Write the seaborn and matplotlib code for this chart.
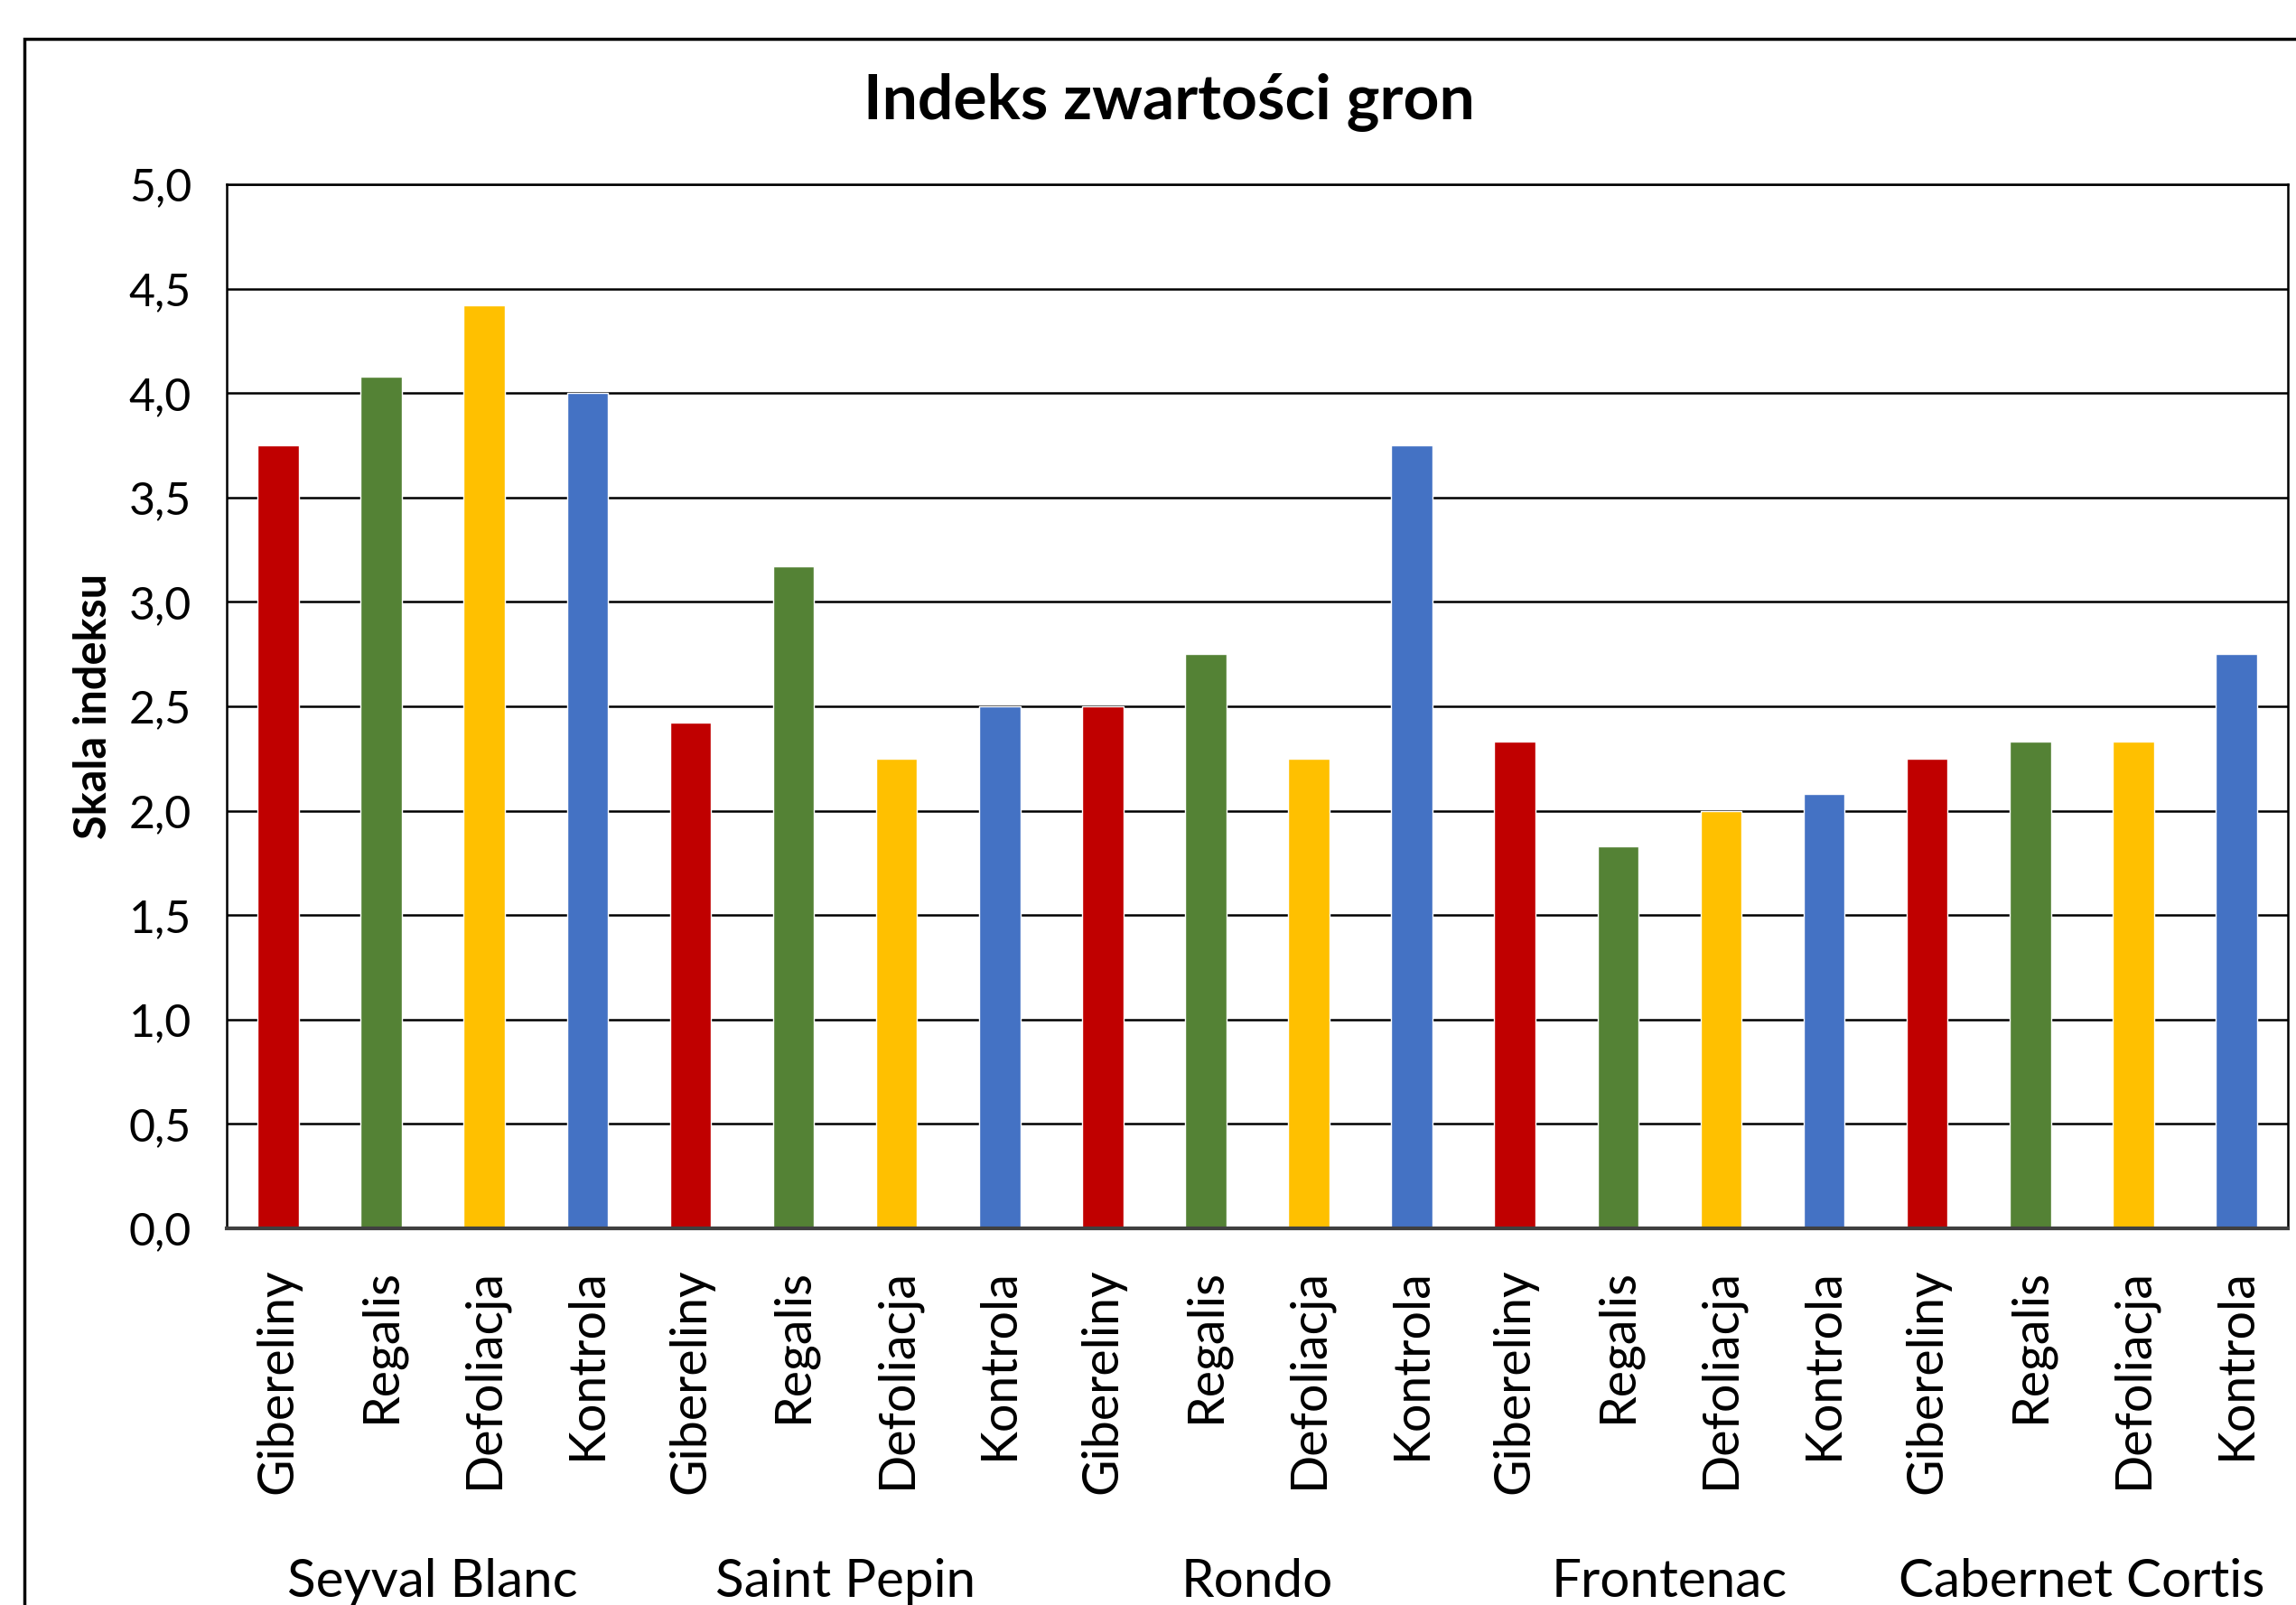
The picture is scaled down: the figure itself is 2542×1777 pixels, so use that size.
import numpy as np
import pandas as pd
import seaborn as sns
import matplotlib
matplotlib.use("Agg")
import matplotlib.pyplot as plt
from matplotlib.patches import Rectangle
from matplotlib.ticker import FuncFormatter
from matplotlib.transforms import blended_transform_factory

# data
varieties = ["Seyval Blanc", "Saint Pepin", "Rondo", "Frontenac", "Cabernet Cortis"]
treatments = ["Gibereliny", "Regalis", "Defoliacja", "Kontrola"]
seyval_blanc = [3.75, 4.08, 4.42, 4.00]
saint_pepin = [2.42, 3.17, 2.25, 2.50]
rondo = [2.50, 2.75, 2.25, 3.75]
frontenac = [2.33, 1.83, 2.00, 2.08]
cabernet_cortis = [2.25, 2.33, 2.33, 2.75]
colors = ["#C00000", "#548235", "#FFC000", "#4472C4"]

rows = []
for v, vals in zip(varieties, [seyval_blanc, saint_pepin, rondo, frontenac, cabernet_cortis]):
    for t, val in zip(treatments, vals):
        rows.append({"slot": v + " | " + t, "variety": v, "treatment": t, "value": val})
df = pd.DataFrame(rows)

sns.set_theme(style="white")
plt.rcParams['font.family'] = ['Lato', 'DejaVu Sans']
plt.rcParams.update({"text.color": "black", "axes.labelcolor": "black",
                     "xtick.color": "black", "ytick.color": "black"})

fig = plt.figure(figsize=(25.42, 17.77), dpi=100)
ax = fig.add_axes([251 / 2542, 1 - 1360 / 1777, (2533 - 251) / 2542, (1360 - 204) / 1777])

sns.barplot(data=df, x="slot", y="value", hue="treatment", hue_order=treatments,
            palette=colors, dodge=False, width=0.4, legend=False, ax=ax,
            saturation=1, errorbar=None)

ax.set_ylim(0, 5)
ax.set_xlim(-0.5, len(df) - 0.5)
ax.set_yticks(np.arange(0, 5.01, 0.5))
ax.yaxis.set_major_formatter(FuncFormatter(lambda v, p: f"{v:.1f}".replace(".", ",")))
ax.yaxis.grid(True, color="black", linewidth=1.8)
ax.set_axisbelow(True)
ax.tick_params(axis="y", length=0, pad=28, labelsize=36)
ax.tick_params(axis="x", length=0, pad=32, labelsize=40)
ax.set_xticks(range(len(df)))
ax.set_xticklabels(df["treatment"], rotation=90, va="top", ha="center")
ax.set_xlabel("")
ax.set_ylabel("Skala indeksu", fontsize=35, fontweight="bold", labelpad=12)
for s in ax.spines.values():
    s.set_color("black")
    s.set_linewidth(1.8)
ax.spines["bottom"].set_linewidth(3)
ax.spines["bottom"].set_color("#404040")

# variety labels under each group of four
tr = blended_transform_factory(ax.transData, fig.transFigure)
for i, v in enumerate(varieties):
    ax.text(i * 4 + 1.5, 1 - 1751 / 1777, v, transform=tr,
            ha="center", va="center", fontsize=42)

fig.text(1294 / 2542, 1 - 114 / 1777, "Indeks zwartości gron", ha="center", va="center",
         fontsize=50, fontweight="bold")

fig.patches.append(Rectangle((27 / 2542, -0.1), 1.2, 1.1 - 43 / 1777,
                             transform=fig.transFigure, fill=False,
                             edgecolor="black", linewidth=2.5))

fig.savefig("out.png", dpi=100)
